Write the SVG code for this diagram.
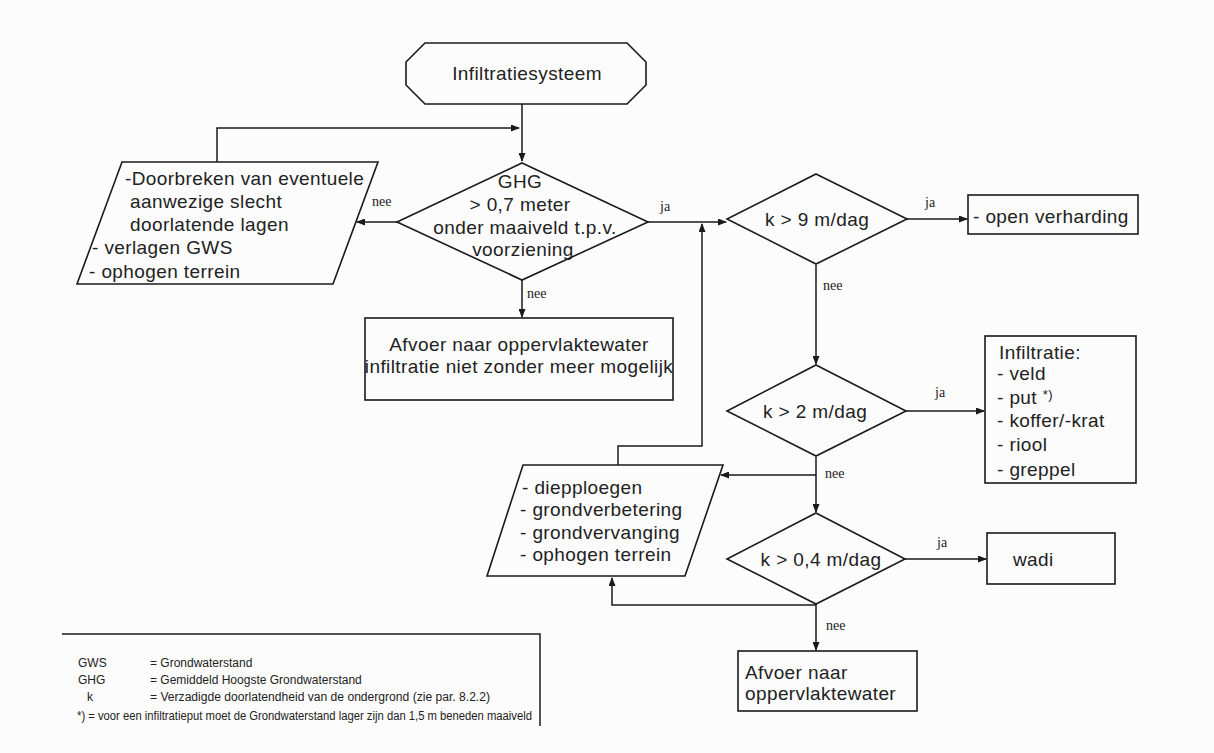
<svg xmlns="http://www.w3.org/2000/svg" width="1214" height="753" viewBox="0 0 1214 753">
<style>
.shape{fill:none;stroke:#1a1a1a;stroke-width:1.6}
.conn{fill:none;stroke:#1a1a1a;stroke-width:1.5}
.t{font-family:"Liberation Sans",Arial,sans-serif;font-size:19px;fill:#222;letter-spacing:0.4px}
.lbl{font-family:"Liberation Serif","Times New Roman",serif;font-size:14px;fill:#222}
.leg{font-family:"Liberation Sans",Arial,sans-serif;font-size:12px;fill:#222}
</style>
<defs>
<marker id="ah" markerWidth="9" markerHeight="7" refX="8" refY="3.5" orient="auto" markerUnits="userSpaceOnUse">
<path d="M0,0 L9,3.5 L0,7 z" fill="#1a1a1a"/>
</marker>
</defs>
<rect width="1214" height="753" fill="#fcfcfc"/>

<g id="connectors">
<path class="conn" d="M522,104 V161" marker-end="url(#ah)"/>
<path class="conn" d="M217,162 V128 H519" marker-end="url(#ah)"/>
<path class="conn" d="M397,222 H357" marker-end="url(#ah)"/>
<path class="conn" d="M522,280 V317" marker-end="url(#ah)"/>
<path class="conn" d="M648,222 H726" marker-end="url(#ah)"/>
<path class="conn" d="M618,465 V446 H702 V224" marker-end="url(#ah)"/>
<path class="conn" d="M907,219 H967" marker-end="url(#ah)"/>
<path class="conn" d="M816,265 V364" marker-end="url(#ah)"/>
<path class="conn" d="M906,411 H984" marker-end="url(#ah)"/>
<path class="conn" d="M816,457 V512" marker-end="url(#ah)"/>
<path class="conn" d="M816,475 H721" marker-end="url(#ah)"/>
<path class="conn" d="M905,559 H986" marker-end="url(#ah)"/>
<path class="conn" d="M816,604 V650" marker-end="url(#ah)"/>
<path class="conn" d="M816,605 H612 V578" marker-end="url(#ah)"/>
<text class="lbl" x="372" y="206">nee</text>
<text class="lbl" x="527" y="298">nee</text>
<text class="lbl" x="660" y="211">ja</text>
<text class="lbl" x="925" y="207">ja</text>
<text class="lbl" x="823" y="290">nee</text>
<text class="lbl" x="935" y="397">ja</text>
<text class="lbl" x="825" y="478">nee</text>
<text class="lbl" x="937" y="547">ja</text>
<text class="lbl" x="826" y="630">nee</text>
</g>

<g id="start">
<polygon class="shape" points="425,43 627,43 646,62 646,85 627,104 425,104 406,85 406,62"/>
<text class="t" x="527" y="80" text-anchor="middle">Infiltratiesysteem</text>
</g>

<g id="ghg">
<polygon class="shape" points="522,163 648,222 522,280 397,222"/>
<text class="t" x="520" y="188" text-anchor="middle">GHG</text>
<text class="t" x="520" y="211" text-anchor="middle">&gt; 0,7 meter</text>
<text class="t" x="525" y="234" text-anchor="middle">onder maaiveld t.p.v.</text>
<text class="t" x="523" y="256" text-anchor="middle">voorziening</text>
</g>

<g id="maatregelen1">
<polygon class="shape" points="122,162 378,162 333,284 77,284"/>
<text class="t" x="125" y="185">-Doorbreken van eventuele</text>
<text class="t" x="130" y="208">aanwezige slecht</text>
<text class="t" x="130" y="231">doorlatende  lagen</text>
<text class="t" x="92" y="254">- verlagen GWS</text>
<text class="t" x="89" y="278">- ophogen terrein</text>
</g>

<g id="afvoer1">
<rect class="shape" x="365" y="318" width="308" height="82"/>
<text class="t" x="519" y="351" text-anchor="middle">Afvoer naar oppervlaktewater</text>
<text class="t" x="519" y="373" text-anchor="middle">infiltratie niet zonder meer mogelijk</text>
</g>

<g id="k9">
<polygon class="shape" points="816,174 907,219 816,264 727,219"/>
<text class="t" x="817" y="226" text-anchor="middle">k &gt; 9 m/dag</text>
</g>

<g id="openverharding">
<rect class="shape" x="968" y="195" width="170" height="39"/>
<text class="t" x="973" y="223">- open verharding</text>
</g>

<g id="k2">
<polygon class="shape" points="816,365 906,411 816,456 727,411"/>
<text class="t" x="815" y="418" text-anchor="middle">k &gt; 2 m/dag</text>
</g>

<g id="infiltratie">
<rect class="shape" x="985" y="336" width="151" height="147"/>
<text class="t" x="999" y="359">Infiltratie:</text>
<text class="t" x="997" y="380">- veld</text>
<text class="t" x="997" y="404">- put <tspan font-size="13px" dy="-5">*)</tspan></text>
<text class="t" x="997" y="427">- koffer/-krat</text>
<text class="t" x="997" y="451">- riool</text>
<text class="t" x="997" y="476">- greppel</text>
</g>

<g id="maatregelen2">
<polygon class="shape" points="523,465 723,465 685,576 487,576"/>
<text class="t" x="522" y="494">- diepploegen</text>
<text class="t" x="520" y="516">- grondverbetering</text>
<text class="t" x="520" y="539">- grondvervanging</text>
<text class="t" x="520" y="561">- ophogen terrein</text>
</g>

<g id="k04">
<polygon class="shape" points="816,513 905,559 816,604 727,559"/>
<text class="t" x="821" y="566" text-anchor="middle">k &gt; 0,4 m/dag</text>
</g>

<g id="wadi">
<rect class="shape" x="987" y="533" width="128" height="51"/>
<text class="t" x="1013" y="566">wadi</text>
</g>

<g id="afvoer2">
<rect class="shape" x="738" y="651" width="179" height="60"/>
<text class="t" x="745" y="679">Afvoer naar</text>
<text class="t" x="745" y="700">oppervlaktewater</text>
</g>

<g id="legend">
<path class="conn" d="M62,634 H540 V726"/>
<text class="leg" x="78" y="667">GWS</text>
<text class="leg" x="150" y="667">= Grondwaterstand</text>
<text class="leg" x="78" y="684">GHG</text>
<text class="leg" x="150" y="684">= Gemiddeld  Hoogste Grondwaterstand</text>
<text class="leg" x="87" y="701">k</text>
<text class="leg" x="150" y="701" textLength="340" lengthAdjust="spacingAndGlyphs">= Verzadigde doorlatendheid van de ondergrond (zie par. 8.2.2)</text>
<text class="leg" x="77" y="720" textLength="455" lengthAdjust="spacingAndGlyphs">*) = voor een infiltratieput moet de  Grondwaterstand lager zijn dan 1,5 m beneden maaiveld</text>
</g>
</svg>
